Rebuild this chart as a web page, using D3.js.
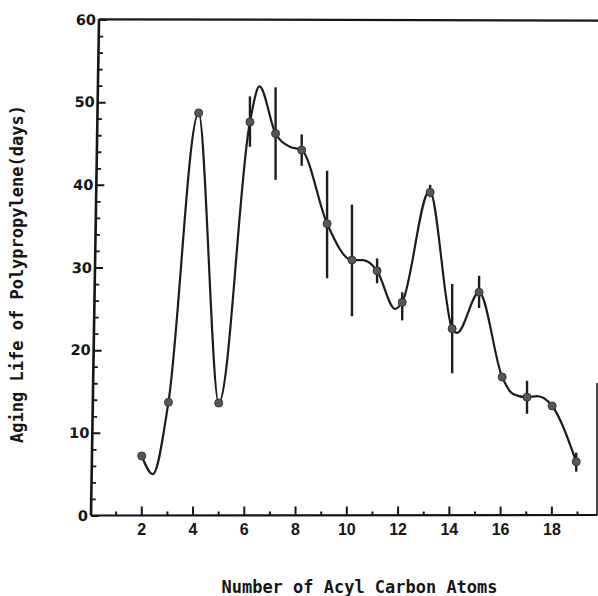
<!DOCTYPE html>
<html>
<head>
<meta charset="utf-8">
<script src="https://cdn.jsdelivr.net/npm/d3@7/dist/d3.min.js"></script>
<style>
	html, body { margin: 0; padding: 0; background: #fff; }
	svg { display: block; }
</style>
</head>
<body>
<svg id="chart" width="598" height="596"></svg>
<script>
////////// Data //////////
// measured points (carbon atoms as plotted, aging life in days)
const carbonX = [2.02, 3.06, 4.24, 5.02, 6.24, 7.24, 8.26, 9.25, 10.22, 11.2, 12.18, 13.27, 14.13, 15.18, 16.08, 17.05, 18.03, 18.97];
const agingLife = [7.2, 13.7, 48.7, 13.6, 47.6, 46.2, 44.2, 35.3, 30.9, 29.6, 25.8, 39.1, 22.6, 27.0, 16.75, 14.3, 13.25, 6.5];
// vertical spread bars (null = no bar drawn)
const errHigh = [null, null, null, null, 50.7, 51.8, 46.1, 41.7, 37.6, 31.1, 27.0, 40.0, 28.0, 29.0, null, 16.3, null, 7.6];
const errLow = [null, null, null, null, 44.6, 40.6, 42.3, 28.7, 24.1, 28.1, 23.6, 38.5, 17.2, 25.1, null, 12.3, null, 5.3];
// hand-drawn smooth curve, traced knots
const fitX = [2.02, 2.45, 3.06, 4.24, 5.02, 6.24, 6.61, 7.24, 7.8, 8.26, 9.25, 10.22, 10.65, 11.2, 11.9, 12.18, 13.25, 14.13, 14.32, 15.18, 16.08, 16.5, 17.05, 17.44, 18.03, 18.97];
const fitY = [7.2, 5.0, 13.7, 48.7, 13.6, 47.6, 51.9, 46.2, 44.6, 44.2, 35.3, 30.9, 30.9, 29.6, 25.0, 25.8, 39.3, 22.6, 22.1, 27.0, 16.75, 14.7, 14.3, 14.45, 13.25, 6.5];
// ticks
const xMajorTicks = [2, 4, 6, 8, 10, 12, 14, 16, 18];
const xMinorTicks = [1, 3, 5, 7, 9, 11, 13, 15, 17, 19];
const yMajorTicks = [0, 10, 20, 30, 40, 50, 60];
const yMinorTicks = [2, 4, 6, 8, 12, 14, 16, 18, 22, 24, 26, 28, 32, 34, 36, 38, 42, 44, 46, 48, 52, 54, 56, 58];

const xTitle = 'Number of Acyl Carbon Atoms';
const yTitle = 'Aging Life of Polypropylene(days)';

////////// Layout //////////
const svg = d3.select('#chart');
const ink = '#151515';
const labelFont = '"DejaVu Sans Mono", "Liberation Mono", monospace';

const x = d3.scaleLinear().domain([0, 19.78]).range([90, 597]);
const y = d3.scaleLinear().domain([0, 60]).range([515.5, 19.5]);

// the scanned y axis leans a little to the right at the top
const lean = -Math.atan(8 / 496) * 180 / Math.PI;

////////// Axes //////////
const xAxisG = svg.append('g').attr('transform', `translate(0, ${y(0)})`);

xAxisG.append('g')
	.call(d3.axisBottom(x).tickValues(xMajorTicks).tickSize(-9).tickSizeOuter(0).tickPadding(8).tickFormat(d3.format('d')))
	.call(g => g.select('.domain').remove())
	.call(g => g.selectAll('line').attr('stroke', ink).attr('stroke-width', 2))
	.call(g => g.selectAll('text')
		.attr('fill', ink)
		.style('font', 'bold 16px "Liberation Sans Narrow", "Liberation Sans", sans-serif'));

xAxisG.append('g')
	.call(d3.axisBottom(x).tickValues(xMinorTicks).tickSize(-4).tickSizeOuter(0).tickFormat(''))
	.call(g => g.select('.domain').remove())
	.call(g => g.selectAll('line').attr('stroke', ink).attr('stroke-width', 2));

xAxisG.append('line')
	.attr('x1', 91).attr('x2', 597)
	.attr('y1', 0).attr('y2', -0.5)
	.attr('stroke', ink).attr('stroke-width', 2.2);

const yAxisG = svg.append('g')
	.attr('transform', `translate(91, ${y(0)}) skewX(${lean}) translate(0, ${-y(0)})`);

yAxisG.append('g')
	.call(d3.axisLeft(y).tickValues(yMajorTicks).tickSize(-8).tickSizeOuter(0).tickPadding(3).tickFormat(d3.format('d')))
	.call(g => g.select('.domain').remove())
	.call(g => g.selectAll('line').attr('stroke', ink).attr('stroke-width', 2))
	.call(g => g.selectAll('text')
		.attr('fill', ink)
		.style('font', 'bold 14.5px "DejaVu Sans", sans-serif'));

yAxisG.append('g')
	.call(d3.axisLeft(y).tickValues(yMinorTicks).tickSize(-4.5).tickSizeOuter(0).tickFormat(''))
	.call(g => g.select('.domain').remove())
	.call(g => g.selectAll('line').attr('stroke', ink).attr('stroke-width', 1.8));

yAxisG.append('line')
	.attr('x1', 0).attr('x2', 0)
	.attr('y1', y(0)).attr('y2', y(60) - 0.5)
	.attr('stroke', ink).attr('stroke-width', 2.6);

// frame pieces that survive in the scan
svg.append('line')
	.attr('x1', 99).attr('x2', 598)
	.attr('y1', 19.3).attr('y2', 20.6)
	.attr('stroke', ink).attr('stroke-width', 2.2);
svg.append('line')
	.attr('x1', 597).attr('x2', 597)
	.attr('y1', 383).attr('y2', y(0))
	.attr('stroke', ink).attr('stroke-width', 1.6);

////////// Titles //////////
svg.append('text')
	.attr('x', 359.5)
	.attr('y', 592.5)
	.attr('text-anchor', 'middle')
	.attr('textLength', 276)
	.attr('lengthAdjust', 'spacingAndGlyphs')
	.attr('fill', ink)
	.style('font', `bold 18px ${labelFont}`)
	.text(xTitle);

svg.append('text')
	.attr('transform', 'translate(22.5, 274) rotate(-90)')
	.attr('text-anchor', 'middle')
	.attr('textLength', 338)
	.attr('lengthAdjust', 'spacingAndGlyphs')
	.attr('fill', ink)
	.style('font', `bold 18px ${labelFont}`)
	.text(yTitle);

////////// Marks //////////
const plot = svg.append('g').attr('class', 'plot');

const fitData = fitX.map((d, i) => [d, fitY[i]]);
plot.append('path')
	.datum(fitData)
	.attr('fill', 'none')
	.attr('stroke', '#1c1c1c')
	.attr('stroke-width', 2.2)
	.attr('d', d3.line().x(d => x(d[0])).y(d => y(d[1])).curve(d3.curveMonotoneX));

const pts = carbonX.map((d, i) => ({ x: d, y: agingLife[i], hi: errHigh[i], lo: errLow[i] }));

plot.selectAll('.errBar')
	.data(pts.filter(d => d.hi !== null))
	.enter().append('line')
		.attr('class', 'errBar')
		.attr('x1', d => x(d.x)).attr('x2', d => x(d.x))
		.attr('y1', d => y(d.hi)).attr('y2', d => y(d.lo))
		.attr('stroke', '#1c1c1c')
		.attr('stroke-width', 2.4);

plot.selectAll('.pt')
	.data(pts)
	.enter().append('circle')
		.attr('class', 'pt')
		.attr('cx', d => x(d.x))
		.attr('cy', d => y(d.y))
		.attr('r', 4)
		.attr('fill', '#575757')
		.attr('stroke', '#333')
		.attr('stroke-width', 1);
</script>
</body>
</html>
